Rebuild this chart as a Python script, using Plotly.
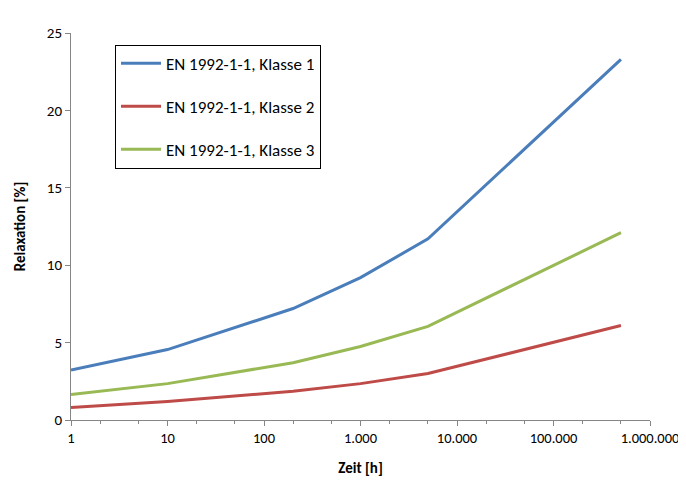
import plotly.graph_objects as go

# Zeit [h] und Relaxation [%]
zeit = [1, 10, 200, 1000, 5000, 500000]
klasse1 = [3.23, 4.55, 7.2, 9.2, 11.7, 23.3]
klasse2 = [0.8, 1.2, 1.85, 2.35, 3.0, 6.1]
klasse3 = [1.65, 2.35, 3.7, 4.75, 6.05, 12.1]

names = ['EN 1992-1-1, Klasse 1', 'EN 1992-1-1, Klasse 2', 'EN 1992-1-1, Klasse 3']
colors = ['#4A7EBB', '#BE4B48', '#98B954']

x_tickvals = [1, 10, 100, 1000, 10000, 100000, 1000000]
x_ticktext = ['1', '10', '100', '1.000', '10.000', '100.000', '1.000.000']

font_fam = 'Calibri, Carlito, Lato, sans-serif'

fig = go.Figure()

for i, y in enumerate([klasse1, klasse2, klasse3]):
    fig.add_trace(
        go.Scatter(
            x=zeit,
            y=y,
            mode='lines',
            name=names[i],
            legendgroup='g%d' % i,
            line=dict(color=colors[i], width=3),
        )
    )

fig.update_layout(
    width=686,
    height=488,
    plot_bgcolor='white',
    paper_bgcolor='white',
    margin=dict(l=63, r=44, t=25, b=76),
    font=dict(family=font_fam, size=15, color='black'),
    legend=dict(
        x=0.076, y=0.97,
        xanchor='left', yanchor='top',
        bordercolor='black', borderwidth=1,
        bgcolor='white',
        font=dict(size=17),
        tracegroupgap=18,
        itemwidth=40,
    ),
    xaxis=dict(
        type='log',
        range=[0, 6],
        tickvals=x_tickvals,
        ticktext=x_ticktext,
        ticks='outside', ticklen=5, tickcolor='#868686',
        showline=True, linecolor='#868686', linewidth=1,
        showgrid=False, zeroline=False,
        automargin=False,
        tickfont=dict(size=14.5),
        minor=dict(ticks='outside', ticklen=3, tickcolor='#868686', showgrid=False),
        title=dict(text='<b>Zeit [h]</b>', font=dict(size=15), standoff=16),
    ),
    yaxis=dict(
        range=[0, 25],
        dtick=5,
        ticks='outside', ticklen=5, tickcolor='#868686',
        showline=True, linecolor='#868686', linewidth=1,
        showgrid=False, zeroline=False,
        automargin=False,
        title=dict(text='<b>Relaxation [%]</b>', font=dict(size=15), standoff=17),
    ),
)

fig.write_html('out.html')
